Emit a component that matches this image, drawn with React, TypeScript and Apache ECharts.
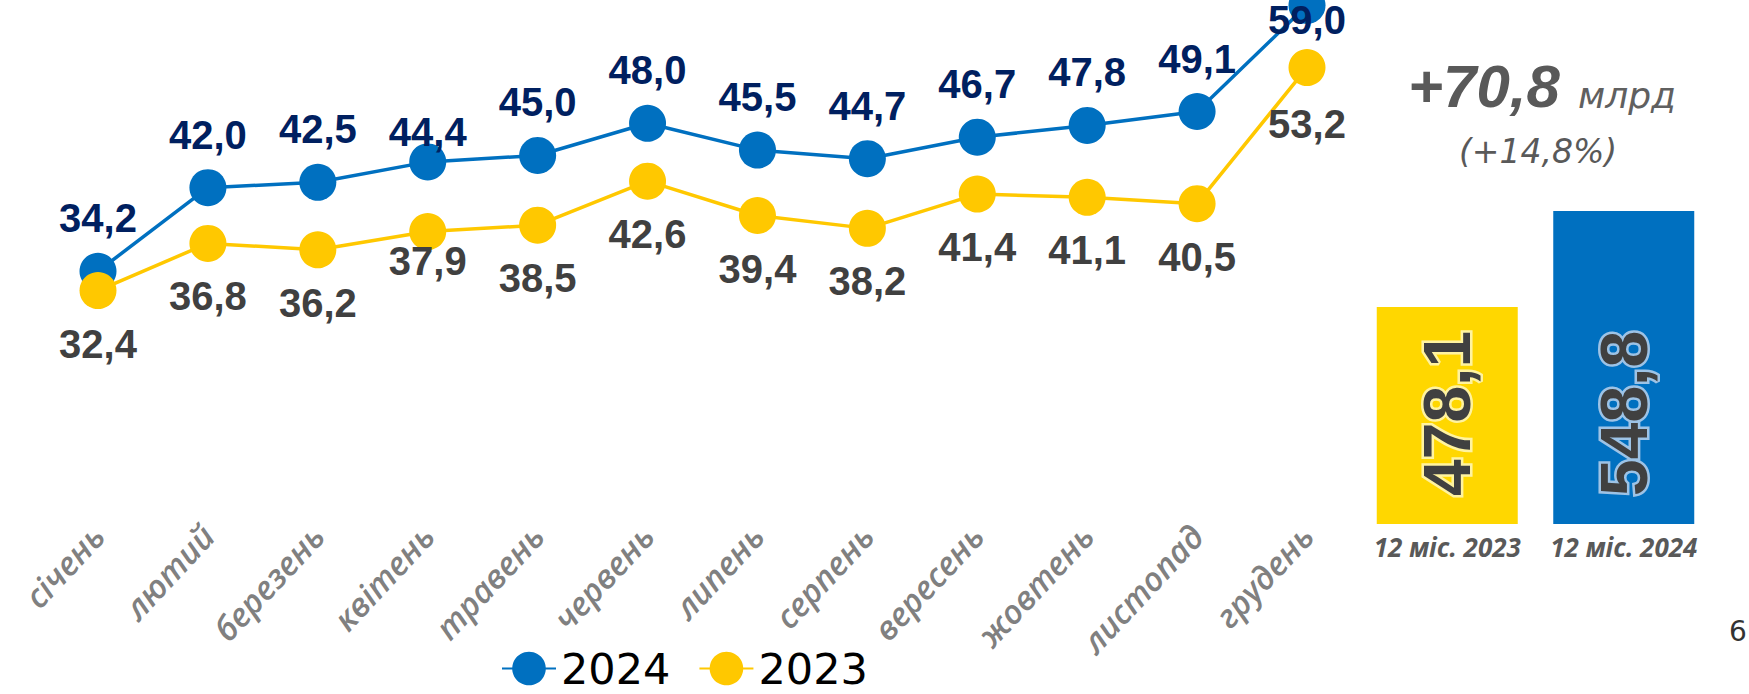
import { useEffect, useRef } from "react";
import * as echarts from "echarts";

const months = ["січень", "лютий", "березень", "квітень", "травень", "червень", "липень", "серпень", "вересень", "жовтень", "листопад", "грудень"];
const values2024 = [34.2, 42.0, 42.5, 44.4, 45.0, 48.0, 45.5, 44.7, 46.7, 47.8, 49.1, 59.0];
const values2023 = [32.4, 36.8, 36.2, 37.9, 38.5, 42.6, 39.4, 38.2, 41.4, 41.1, 40.5, 53.2];
const totalCategories = ["12 міс. 2023", "12 міс. 2024"];
const totalValues = [478.1, 548.8];
const legendNames = ["2024", "2023"];
const changeAbs = "+70,8";
const changeUnit = "млрд";
const changePct = "(+14,8%)";
const pageNumber = "6";

const BLUE = "#0070C0";
const YELLOW = "#FFC800";
const BAR_YELLOW = "#FFD700";

const fmt = (v: number) => v.toFixed(1).replace(".", ",");

// per-point label offsets (label centre relative to marker centre)
const offsets2024: Record<number, number> = { 3: -30, 11: 15 };
const offsets2023: Record<number, number> = { 3: 29, 11: 56 };

export default function App() {
  const ref = useRef<HTMLDivElement>(null);

  useEffect(() => {
    if (!ref.current) return;
    const chart = echarts.init(ref.current, null, { renderer: "svg" });

    const lineData = (vals: number[], offs: Record<number, number>, def: number) =>
      vals.map((v, i) => ({
        value: v,
        label: { offset: [0, offs[i] !== undefined ? offs[i] : def] },
      }));

    const option: any = {
      animation: false,
      backgroundColor: "#ffffff",
      legend: {
        data: legendNames,
        left: 496,
        top: 642,
        itemWidth: 54,
        itemHeight: 42,
        itemGap: 28,
        textStyle: { fontSize: 43, fontFamily: "DejaVu Sans", color: "#000000" },
      },
      grid: [
        { left: 98, width: 1209, top: 0, height: 520, outerBoundsMode: "none", containLabel: false },
        { left: 1359, width: 353, top: 141.6, height: 382.4, outerBoundsMode: "none", containLabel: false },
      ],
      xAxis: [
        {
          gridIndex: 0,
          type: "category",
          data: months,
          boundaryGap: false,
          axisLine: { show: false },
          axisTick: { show: false },
          axisLabel: {
            rotate: 47,
            margin: 10,
            interval: 0,
            fontSize: 33,
            fontStyle: "italic",
            fontWeight: 600,
            fontFamily: "Open Sans",
            color: "#808080",
          },
        },
        {
          gridIndex: 1,
          type: "category",
          data: totalCategories,
          axisLine: { show: false },
          axisTick: { show: false },
          axisLabel: {
            margin: 10,
            interval: 0,
            fontSize: 26,
            fontStyle: "italic",
            fontWeight: "bold",
            fontFamily: "Open Sans",
            color: "#595959",
          },
        },
      ],
      yAxis: [
        { gridIndex: 0, type: "value", min: 11, max: 59.5, show: false, splitLine: { show: false } },
        { gridIndex: 1, type: "value", min: 318, max: 600, show: false, splitLine: { show: false } },
      ],
      series: [
        {
          name: legendNames[0],
          type: "line",
          xAxisIndex: 0,
          yAxisIndex: 0,
          data: lineData(values2024, offsets2024, -53),
          symbol: "circle",
          symbolSize: 37,
          clip: false,
          lineStyle: { color: BLUE, width: 3.5 },
          itemStyle: { color: BLUE },
          label: {
            show: true,
            position: "inside",
            formatter: (p: any) => fmt(p.value),
            fontSize: 40,
            fontWeight: "bold",
            fontFamily: "Liberation Sans",
            color: "#002060",
          },
          z: 2,
        },
        {
          name: legendNames[1],
          type: "line",
          xAxisIndex: 0,
          yAxisIndex: 0,
          data: lineData(values2023, offsets2023, 53),
          symbol: "circle",
          symbolSize: 37,
          clip: false,
          lineStyle: { color: YELLOW, width: 3.5 },
          itemStyle: { color: YELLOW },
          label: {
            show: true,
            position: "inside",
            formatter: (p: any) => fmt(p.value),
            fontSize: 40,
            fontWeight: "bold",
            fontFamily: "Liberation Sans",
            color: "#404040",
          },
          z: 3,
        },
        {
          type: "bar",
          xAxisIndex: 1,
          yAxisIndex: 1,
          barWidth: 141,
          data: totalValues.map((v, i) => ({
            value: v,
            itemStyle: { color: i === 0 ? BAR_YELLOW : BLUE },
            label: { textBorderColor: i === 0 ? "#FFF3A0" : "#9DC3E6" },
          })),
          label: {
            show: true,
            position: "insideBottom",
            distance: 28,
            rotate: 90,
            align: "left",
            verticalAlign: "middle",
            formatter: (p: any) => fmt(p.value),
            fontSize: 66,
            fontWeight: "bold",
            fontFamily: "Liberation Sans",
            color: "#404040",
            textBorderWidth: 5,
          },
        },
      ],
      graphic: [
        {
          type: "text",
          left: 1408,
          top: 86.5 - 30,
          style: {
            text: changeAbs,
            fontSize: 60,
            fontWeight: "bold",
            fontStyle: "italic",
            fontFamily: "Liberation Sans",
            fill: "#595959",
          },
        },
        {
          type: "text",
          x: 1578,
          y: 95,
          style: {
            text: changeUnit,
            fontSize: 36,
            fontStyle: "italic",
            fontFamily: "DejaVu Sans",
            fill: "#606060",
            verticalAlign: "middle",
            align: "left",
          },
        },
        {
          type: "text",
          x: 1538,
          y: 151,
          style: {
            text: changePct,
            fontSize: 33,
            fontStyle: "italic",
            fontFamily: "DejaVu Sans",
            fill: "#595959",
            verticalAlign: "middle",
            align: "center",
          },
        },
        {
          type: "text",
          x: 1729,
          y: 631,
          style: {
            text: pageNumber,
            fontSize: 28,
            fontFamily: "DejaVu Sans",
            fill: "#333333",
            verticalAlign: "middle",
            align: "left",
          },
        },
      ],
    };

    chart.setOption(option);
    return () => chart.dispose();
  }, []);

  return (
    <div style={{ position: "fixed", left: 0, top: 0, width: 1749, height: 694, background: "#fff" }}>
      <div ref={ref} style={{ width: 1749, height: 694 }} />
    </div>
  );
}
